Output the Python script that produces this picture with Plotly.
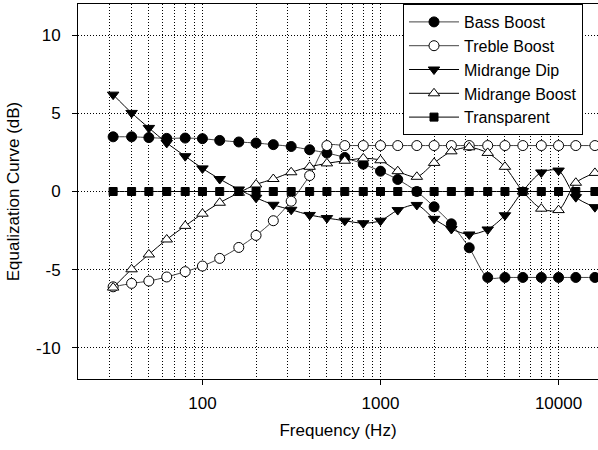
import plotly.graph_objects as go

freq = [31.5, 40, 50, 63, 80, 100, 125, 160, 200, 250, 315, 400, 500, 630, 800,
        1000, 1250, 1600, 2000, 2500, 3150, 4000, 5000, 6300, 8000, 10000, 12500, 16000]

bass_boost = [3.5, 3.5, 3.45, 3.4, 3.42, 3.38, 3.27, 3.17, 3.1, 3.0, 2.88, 2.67, 2.46, 2.18, 1.75,
              1.3, 0.77, 0.0, -0.98, -2.07, -3.6, -5.5, -5.5, -5.5, -5.5, -5.5, -5.5, -5.5]
treble_boost = [-6.1, -5.88, -5.73, -5.47, -5.13, -4.77, -4.28, -3.58, -2.81, -1.87, -0.62, 1.02, 2.94,
                2.94, 2.94, 2.94, 2.94, 2.94, 2.94, 2.94, 2.94, 2.94, 2.94, 2.94, 2.94, 2.94, 2.94, 2.94]
midrange_dip = [6.2, 5.03, 4.07, 3.11, 2.26, 1.48, 0.8, 0.13, -0.4, -0.85, -1.17, -1.5, -1.7, -1.87, -2.03,
                -1.87, -1.19, -0.86, -1.75, -2.4, -2.75, -2.43, -1.52, 0.03, 1.22, 1.34, -0.36, -1.0]
midrange_boost = [-6.15, -4.98, -4.03, -3.07, -2.2, -1.42, -0.72, -0.08, 0.45, 0.8, 1.23, 1.58, 1.8, 1.97, 2.12,
                  2.0, 1.3, 0.94, 1.83, 2.57, 2.83, 2.47, 1.58, 0.0, -1.1, -1.19, 0.56, 1.19]
transparent = [0.0] * 28

series = [
    ("Bass Boost", bass_boost, "circle", "black", "#444444"),
    ("Treble Boost", treble_boost, "circle", "white", "#444444"),
    ("Midrange Dip", midrange_dip, "triangle-down", "black", "black"),
    ("Midrange Boost", midrange_boost, "triangle-up", "white", "black"),
    ("Transparent", transparent, "square", "black", "black"),
]

major_x = [100, 1000, 10000]
minor_x = [30, 40, 50, 60, 70, 80, 90, 200, 300, 400, 500, 600, 700, 800, 900,
           2000, 3000, 4000, 5000, 6000, 7000, 8000, 9000]
y_ticks = [-10, -5, 0, 5, 10]

FONT = "Arial, Liberation Sans, sans-serif"
FS = 17
DOT = "1px,2px"

fig = go.Figure()
for name, vals, sym, fill, lcol in series:
    fig.add_trace(go.Scatter(
        x=freq, y=vals, name=name, mode="lines+markers",
        line=dict(color=lcol, width=1, shape="spline", smoothing=0.8),
        marker=dict(symbol=sym, size=8 if sym == "square" else 10, color=fill,
                    line=dict(color="black", width=1)),
    ))

fig.update_layout(
    width=598, height=450,
    margin=dict(l=78, r=0, t=4, b=71),
    paper_bgcolor="white", plot_bgcolor="white",
    font=dict(family=FONT, size=FS, color="black"),
    showlegend=True,
    legend=dict(
        x=0.625, y=1, xanchor="left", yanchor="top",
        bgcolor="white", bordercolor="black", borderwidth=1,
        font=dict(family=FONT, size=16, color="black"),
        itemwidth=50,
    ),
)

fig.update_xaxes(
    type="log",
    range=[1.30103, 4.2215],
    tickmode="array", tickvals=major_x, ticktext=[str(v) for v in major_x],
    ticks="outside", ticklen=5, tickcolor="black", tickwidth=1,
    ticklabelstandoff=4,
    showline=True, linecolor="black", linewidth=1, mirror=True,
    showgrid=True, gridcolor="black", gridwidth=1, griddash=DOT,
    minor=dict(tickmode="array", tickvals=minor_x, ticks="",
               showgrid=True, gridcolor="black", gridwidth=1, griddash=DOT),
    zeroline=False,
    title=dict(text="Frequency (Hz)", font=dict(family=FONT, size=FS), standoff=11),
    tickfont=dict(family=FONT, size=FS),
)

fig.update_yaxes(
    range=[-12, 12],
    tickmode="array", tickvals=y_ticks, ticktext=[str(v) for v in y_ticks],
    ticks="outside", ticklen=5, tickcolor="black", tickwidth=1,
    ticklabelstandoff=8,
    showline=True, linecolor="black", linewidth=1, mirror=False,
    showgrid=True, gridcolor="black", gridwidth=1, griddash=DOT,
    zeroline=False,
    title=dict(text="Equalization Curve (dB)", font=dict(family=FONT, size=FS), standoff=12),
    tickfont=dict(family=FONT, size=FS),
)

fig.write_html("out.html")
